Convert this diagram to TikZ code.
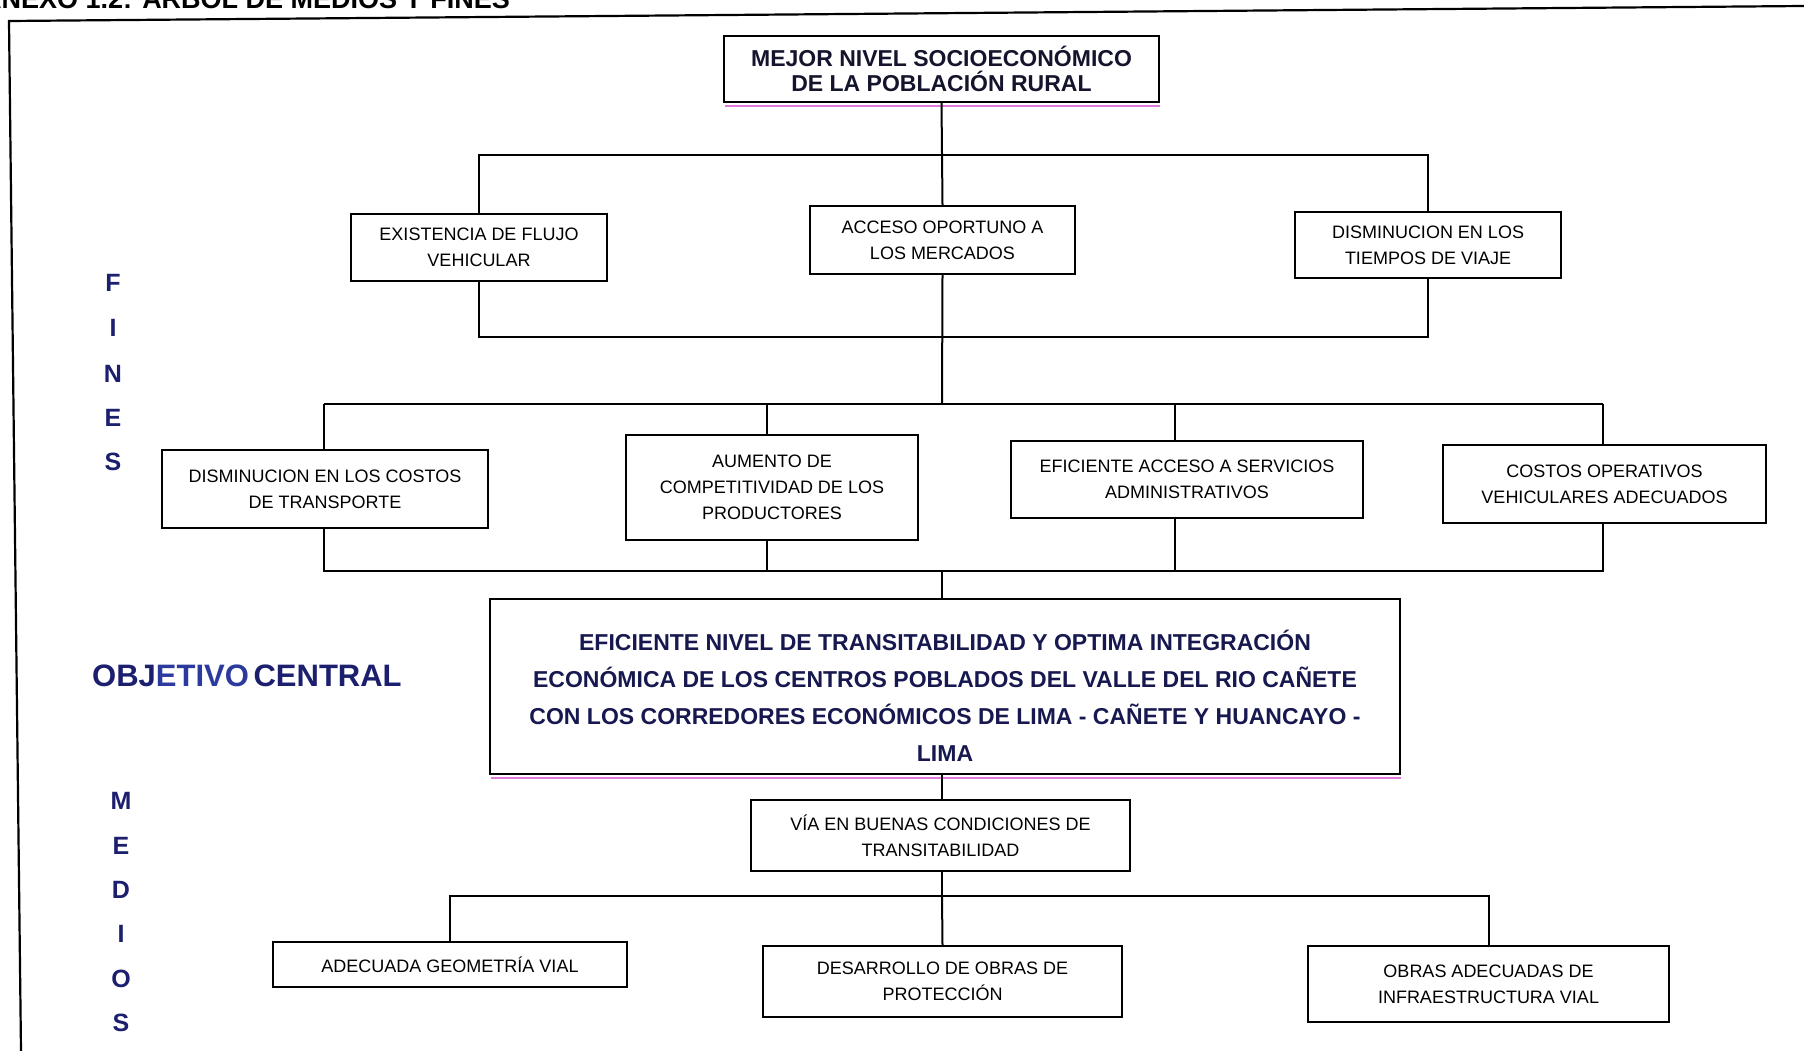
\documentclass[tikz,border=0pt]{standalone}
\usepackage{fontspec}
\setmainfont{Liberation Sans}
\definecolor{navy}{HTML}{1B1F6E}
\definecolor{midblue}{HTML}{2C3A9E}
\definecolor{objtxt}{HTML}{16184F}
\definecolor{toptxt}{HTML}{14142C}
\definecolor{shadowpink}{HTML}{E07AD8}
\begin{document}
\begin{tikzpicture}[x=1pt,y=-1pt,
  box/.style={draw=black, line width=2.2pt, fill=white, inner sep=0pt, align=center,
    font=\fontsize{18}{26}\selectfont, text=black},
  bigbox/.style={box, font=\bfseries\fontsize{23}{25.5}\selectfont, text=toptxt},
  objtext/.style={inner sep=0pt, align=center, font=\bfseries\fontsize{23}{37}\selectfont, text=objtxt},
  conn/.style={draw=black, line width=2pt},
  sidelbl/.style={font=\bfseries\fontsize{25}{25}\selectfont, text=navy, inner sep=0pt},
  ]
\useasboundingbox[fill=white] (0,0) rectangle (1804,1051);

% title (cut off at top, as in the reference)
\node[anchor=base east, inner sep=0pt, font=\bfseries\fontsize{27}{27}\selectfont] (title) at (510,9) {ANEXO 1.2: ARBOL DE MEDIOS Y FINES};

% outer frame
\coordinate (frTL) at (9,21);
\coordinate (frTR) at (1804,6);
\coordinate (frBL) at (21,1051);
\draw[line width=2.2pt] (frTR) -- (frTL) -- (frBL);

% boxes
\node[bigbox, minimum width=435, minimum height=66] (top) at (941.5,69) {MEJOR NIVEL SOCIOECONÓMICO\\DE LA POBLACIÓN RURAL};

\node[box, minimum width=256, minimum height=67] (b21) at (479,247.5) {EXISTENCIA DE FLUJO\\VEHICULAR};
\node[box, minimum width=265, minimum height=68] (b22) at (942.5,240) {ACCESO OPORTUNO A\\LOS MERCADOS};
\node[box, minimum width=266, minimum height=66] (b23) at (1428,245) {DISMINUCION EN LOS\\TIEMPOS DE VIAJE};

\node[box, minimum width=326, minimum height=78] (b31) at (325,489) {DISMINUCION EN LOS COSTOS\\DE TRANSPORTE};
\node[box, minimum width=292, minimum height=105] (b32) at (772,487.5) {AUMENTO DE\\COMPETITIVIDAD DE LOS\\PRODUCTORES};
\node[box, minimum width=352, minimum height=77] (b33) at (1187,479.5) {EFICIENTE ACCESO A SERVICIOS\\ADMINISTRATIVOS};
\node[box, minimum width=323, minimum height=78] (b34) at (1604.5,484) {COSTOS OPERATIVOS\\VEHICULARES ADECUADOS};

\node[box, minimum width=910, minimum height=175] (obj) at (945,686.5) {};
\node[objtext] (objt) at ([yshift=-9pt]obj.center) {EFICIENTE NIVEL DE TRANSITABILIDAD Y OPTIMA INTEGRACIÓN\\ECONÓMICA DE LOS CENTROS POBLADOS DEL VALLE DEL RIO CAÑETE\\CON LOS CORREDORES ECONÓMICOS DE LIMA - CAÑETE Y HUANCAYO -\\LIMA};

\node[box, minimum width=379, minimum height=71] (via) at (940.5,835.5) {VÍA EN BUENAS CONDICIONES DE\\TRANSITABILIDAD};

\node[box, minimum width=354, minimum height=45] (b51) at (450,964.5) {ADECUADA GEOMETRÍA VIAL};
\node[box, minimum width=359, minimum height=71] (b52) at (942.5,981.5) {DESARROLLO DE OBRAS DE\\PROTECCIÓN};
\node[box, minimum width=361, minimum height=76] (b53) at (1488.5,984) {OBRAS ADECUADAS DE\\INFRAESTRUCTURA VIAL};

% pink shadows
\draw[shadowpink, line width=1.5pt] ([xshift=2pt,yshift=-3pt]top.south west) -- ([yshift=-3pt]top.south east);
\draw[shadowpink, line width=1.5pt] ([xshift=2pt,yshift=-3pt]obj.south west) -- ([yshift=-3pt]obj.south east);

% bus coordinates
\coordinate (bar1) at (942,155);
\coordinate (bar2) at (942,337);
\coordinate (bar3) at (942,404);
\coordinate (bar4) at (942,571);
\coordinate (bar5) at (942,896);

% connectors: top level
\draw[conn] (top.south) -- (b22.north);
\draw[conn] (b21.north) -- (b21.north |- bar1) -| (b23.north);
\draw[conn] (b21.south) -- (b21.south |- bar2) -| (b23.south);
\draw[conn] (b22.south) -- (bar3);

% third row
\coordinate (t31) at (324,404);
\coordinate (t32) at (767,404);
\coordinate (t33) at (1175,404);
\coordinate (t34) at (1603,404);
\draw[conn] (t31) -- (t34);
\draw[conn] (t31) -- (t31 |- b31.north);
\draw[conn] (t32) -- (t32 |- b32.north);
\draw[conn] (t33) -- (t33 |- b33.north);
\draw[conn] (t34) -- (t34 |- b34.north);

\coordinate (u31) at (324,571);
\coordinate (u34) at (1603,571);
\draw[conn] (u31 |- b31.south) -- (u31) -- (u34) -- (u34 |- b34.south);
\draw[conn] (t32 |- b32.south) -- (t32 |- bar4);
\draw[conn] (t33 |- b33.south) -- (t33 |- bar4);
\draw[conn] (bar4) -- (bar4 |- obj.north);

% medios
\draw[conn] (bar4 |- obj.south) -- (bar4 |- via.north);
\draw[conn] (bar4 |- via.south) -- (bar5);
\draw[conn] (b51.north) -- (b51.north |- bar5) -| (b53.north);
\draw[conn] (bar5) -- (b52.north);

% side labels
\node[sidelbl] (fF) at (113,283) {F};
\node[sidelbl] (fI) at (113,328) {I};
\node[sidelbl] (fN) at (113,374) {N};
\node[sidelbl] (fE) at (113,418) {E};
\node[sidelbl] (fS) at (113,462) {S};

\node[anchor=west, inner sep=0pt, font=\bfseries\fontsize{31}{31}\selectfont, text=navy] (oc) at (92,676) {OBJ{\color{midblue}ETIVO}\hspace{-4pt} CENTRAL};

\node[sidelbl] (mM) at (121,801) {M};
\node[sidelbl] (mE) at (121,846) {E};
\node[sidelbl] (mD) at (121,890) {D};
\node[sidelbl] (mI) at (121,934) {I};
\node[sidelbl] (mO) at (121,979) {O};
\node[sidelbl] (mS) at (121,1023) {S};
\end{tikzpicture}
\end{document}
